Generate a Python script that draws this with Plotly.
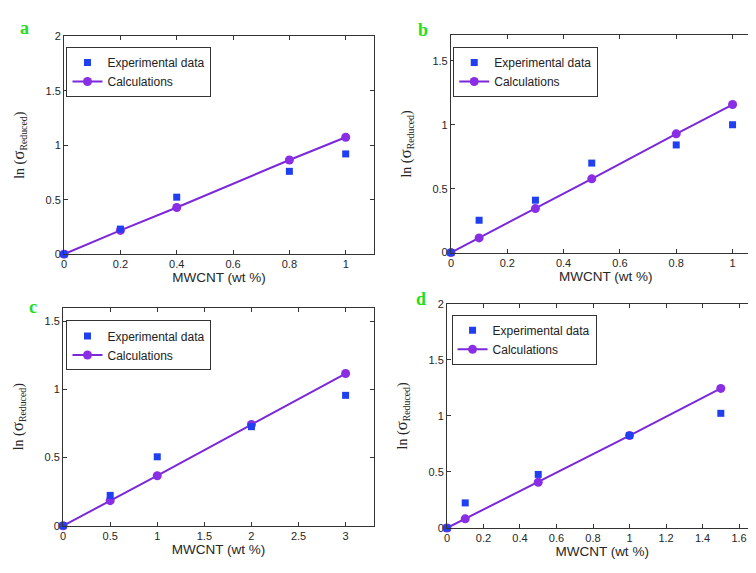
import plotly.graph_objects as go

# ---- data ----
a_x = [0, 0.2, 0.4, 0.8, 1.0]
a_exp = [0.0, 0.23, 0.523, 0.76, 0.92]
a_calc = [0.0, 0.218, 0.428, 0.864, 1.073]

b_x = [0, 0.1, 0.3, 0.5, 0.8, 1.0]
b_exp = [0.0, 0.253, 0.41, 0.70, 0.842, 1.0]
b_calc = [0.0, 0.115, 0.344, 0.577, 0.929, 1.158]

c_x = [0, 0.5, 1, 2, 3]
c_exp = [0.0, 0.223, 0.506, 0.727, 0.957]
c_calc = [0.0, 0.184, 0.367, 0.743, 1.117]

d_x = [0, 0.1, 0.5, 1.0, 1.5]
d_exp = [0.0, 0.224, 0.478, 0.825, 1.023]
d_calc = [0.0, 0.082, 0.408, 0.825, 1.245]

panel_letters = ["a", "b", "c", "d"]
x_title = "MWCNT (wt %)"
y_title = "ln (<span style='font-size:17px'>σ</span><sub>Reduced</sub>)"
exp_name = "Experimental data"
calc_name = "Calculations"

W, H = 756, 573
BLUE = "#1f3ff0"
PURPLE = "#7b28da"
AXC = "#333333"

# pixel boxes: left, right, top, bottom
boxes = [
    (53.3, 364.3, 22.7, 245.3),
    (441.7, 752.7, 21.7, 243.7),
    (52.3, 364.3, 300.0, 522.7),
    (437.7, 749.3, 296.0, 525.0),
]
xranges = [[0, 1.1], [0, 1.1], [0, 3.3], [0, 1.7]]
yranges = [[0, 2.0], [0, 1.7], [0, 1.6], [0, 2.0]]
xdticks = [0.2, 0.2, 0.5, 0.2]
legend_pos = [(66.7, 35.7), (455.0, 35.7), (66.7, 315.0), (453.3, 309.3)]
letter_pos = [(14, 14), (414, 16), (22, 299), (412, 291)]

datasets = [(a_x, a_exp, a_calc), (b_x, b_exp, b_calc), (c_x, c_exp, c_calc), (d_x, d_exp, d_calc)]

fig = go.Figure()
layout = dict(
    width=W, height=H, margin=dict(l=0, r=0, t=0, b=0),
    paper_bgcolor="white", plot_bgcolor="white",
    font=dict(family="Liberation Sans, Arial, sans-serif", color="#262626"),
    annotations=[],
)

for i, (xs, ye, yc) in enumerate(datasets):
    n = i + 1
    xa = "x" if n == 1 else f"x{n}"
    ya = "y" if n == 1 else f"y{n}"
    lg = "legend" if n == 1 else f"legend{n}"
    fig.add_trace(go.Scatter(
        x=xs, y=yc, mode="lines+markers", name=calc_name,
        line=dict(color=PURPLE, width=2),
        marker=dict(symbol="circle", size=9, color="#8a2ee6"),
        xaxis=xa, yaxis=ya, legend=lg, cliponaxis=False,
    ))
    fig.add_trace(go.Scatter(
        x=xs, y=ye, mode="markers", name=exp_name,
        marker=dict(symbol="square", size=7, color=BLUE),
        xaxis=xa, yaxis=ya, legend=lg, cliponaxis=False,
    ))
    l, r, t, b = boxes[i]
    axcommon = dict(
        showline=True, linecolor=AXC, linewidth=1, mirror="ticks",
        ticks="inside", ticklen=4, tickcolor=AXC, showgrid=False, zeroline=False,
        tickfont=dict(size=11, color="#262626"),
    )
    layout["xaxis" if n == 1 else f"xaxis{n}"] = dict(
        domain=[l / W, r / W], range=xranges[i], dtick=xdticks[i], tick0=0,
        anchor=ya,
        title=dict(text=x_title, font=dict(size=13.5, color="#262626"), standoff=2),
        **axcommon,
    )
    layout["yaxis" if n == 1 else f"yaxis{n}"] = dict(
        domain=[1 - b / H, 1 - t / H], range=yranges[i], dtick=0.5, tick0=0,
        anchor=xa,
        title=dict(text=y_title, font=dict(size=14, family="Liberation Serif, Times New Roman, serif",
                                           color="#262626"), standoff=17),
        **axcommon,
    )
    lx, ly = legend_pos[i]
    layout[lg] = dict(
        x=(lx - 11) / W, y=1 - (ly - 2) / H, xanchor="left", yanchor="top",
        bgcolor="white", bordercolor=AXC, borderwidth=1,
        font=dict(size=12, color="#222222"), traceorder="reversed",
        tracegroupgap=0, itemwidth=30,
    )
    px, py = letter_pos[i]
    layout["annotations"].append(dict(
        text=f"<b>{panel_letters[i]}</b>", x=px / W, y=1 - py / H, xref="paper", yref="paper",
        xanchor="center", yanchor="middle", showarrow=False,
        font=dict(size=18, color="#22dd22", family="Liberation Serif, Times New Roman, serif"),
    ))

fig.update_layout(**layout)
fig.write_html("out.html")
